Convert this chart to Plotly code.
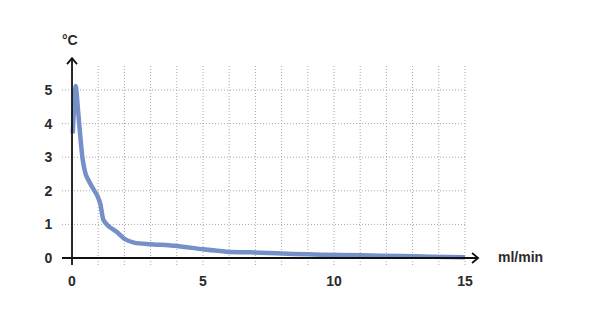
import plotly.graph_objects as go

# data (flow ml/min vs temperature °C)
flow = [0.03, 0.14, 0.24, 0.33, 0.41, 0.53, 0.75, 0.98, 1.09, 1.2, 1.39, 1.7, 2.02, 2.4, 3.0, 4.0, 5.0, 5.9, 7.2, 8.45, 9.5, 11.0, 12.5, 13.7, 15.0]
temp = [3.71, 5.12, 4.31, 3.51, 2.92, 2.48, 2.14, 1.83, 1.58, 1.13, 0.95, 0.78, 0.56, 0.45, 0.41, 0.36, 0.26, 0.19, 0.16, 0.12, 0.10, 0.08, 0.06, 0.04, 0.02]
x_ticks = [0, 5, 10, 15]
y_ticks = [0, 1, 2, 3, 4, 5]
x_grid = list(range(1, 16))
y_grid = [1, 2, 3, 4, 5]

XR = [-0.382, 15.573]
YR = [-0.208, 6.012]
FAM = "Liberation Sans"
TXT = "#2a2a2a"

fig = go.Figure()
fig.add_trace(go.Scatter(x=flow, y=temp, mode="lines",
                         line=dict(color="#7590c8", width=4.5, shape="spline", smoothing=0.7),
                         hoverinfo="skip", showlegend=False))

grid_line = dict(color="#a8a8a8", width=1, dash="1px,2px")
shapes = []
for gx in x_grid:
    shapes.append(dict(type="line", xref="x", yref="y", x0=gx, x1=gx, y0=YR[0], y1=5.77,
                       line=grid_line, layer="below"))
for gy in y_grid:
    shapes.append(dict(type="line", xref="x", yref="y", x0=XR[0], x1=15, y0=gy, y1=gy,
                       line=grid_line, layer="below"))
# axes
ax_line = dict(color="#111111", width=1.8)
shapes.append(dict(type="line", xref="x", yref="y", x0=XR[0], x1=15.5, y0=0, y1=0, line=ax_line))
shapes.append(dict(type="line", xref="x", yref="y", x0=0, x1=0, y0=YR[0], y1=5.95, line=ax_line))
# arrowheads (chevrons)
shapes.append(dict(type="path", xref="x", yref="y",
                   path="M 15.27,0.15 L 15.5,0 L 15.27,-0.15", line=ax_line))
shapes.append(dict(type="path", xref="x", yref="y",
                   path="M -0.19,5.77 L 0,5.95 L 0.19,5.77", line=ax_line))

tickfont = dict(family=FAM, size=14, color=TXT)
fig.update_layout(
    width=604, height=314,
    margin=dict(l=62, r=124, t=56, b=49),
    paper_bgcolor="white", plot_bgcolor="white",
    shapes=shapes,
    xaxis=dict(range=XR, showgrid=False, zeroline=False, showline=False,
               tickmode="array", tickvals=x_ticks, ticktext=[f"<b>{v}</b>" for v in x_ticks],
               ticks="outside", ticklen=3, tickcolor="rgba(0,0,0,0)", tickfont=tickfont),
    yaxis=dict(range=YR, showgrid=False, zeroline=False, showline=False,
               tickmode="array", tickvals=y_ticks, ticktext=[f"<b>{v}</b>" for v in y_ticks],
               ticks="outside", ticklen=6, tickcolor="rgba(0,0,0,0)", tickfont=tickfont),
    annotations=[
        dict(text="<b>°C</b>", xref="paper", yref="paper", x=0.019, y=1.077, showarrow=False,
             xanchor="center", yanchor="middle", font=dict(family=FAM, size=14, color=TXT)),
        dict(text="<b>ml/min</b>", xref="paper", yref="paper", x=1.096, y=0.038, showarrow=False,
             xanchor="center", yanchor="middle", font=dict(family=FAM, size=14, color=TXT)),
    ],
)

fig.write_html("out.html")
